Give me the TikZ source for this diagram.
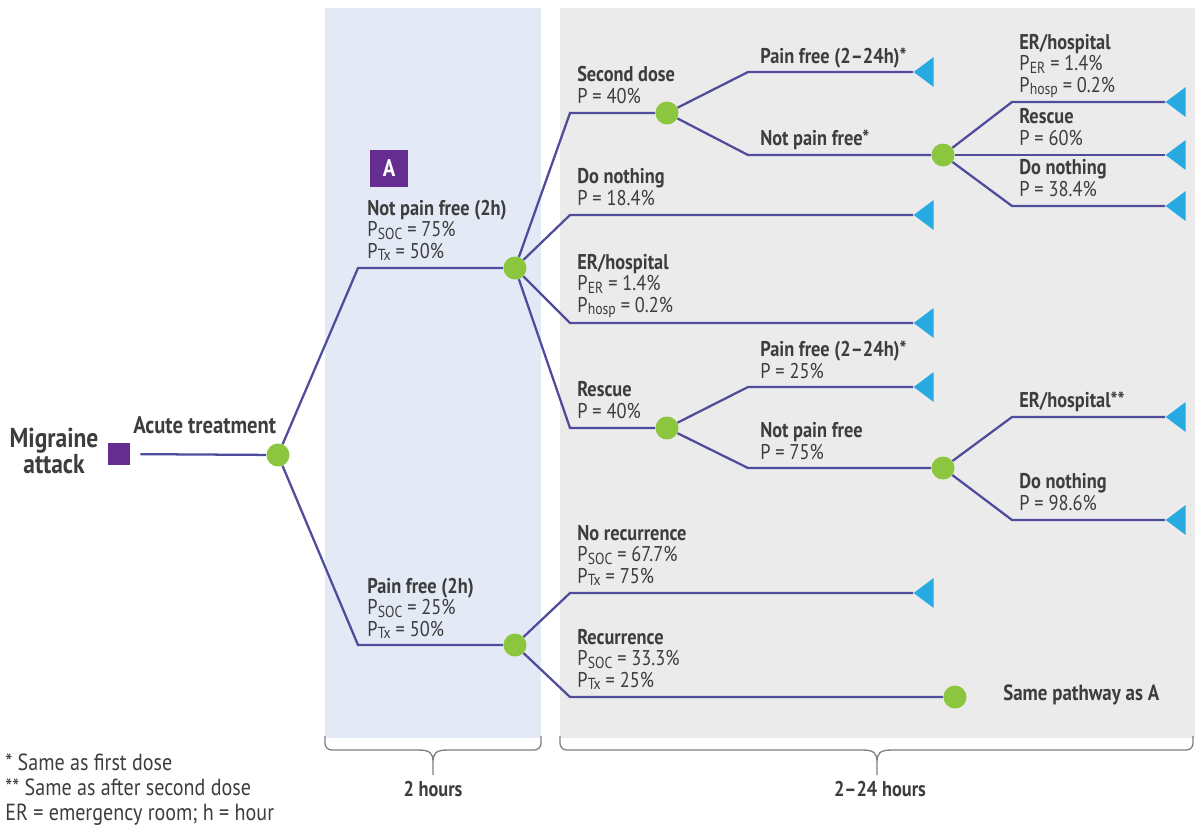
\documentclass[tikz,border=0pt]{standalone}
\usepackage{fontspec}
\setmainfont{PT Sans}[FakeStretch=0.86]
\usetikzlibrary{shapes.geometric}

\definecolor{txtgray}{HTML}{3D3D3D}
\definecolor{branchcol}{HTML}{4F4C9C}
\definecolor{chancecol}{HTML}{8CC63F}
\definecolor{leafcol}{HTML}{27AAE1}
\definecolor{decisioncol}{HTML}{662D91}
\definecolor{twohcol}{HTML}{E3E9F5}
\definecolor{latercol}{HTML}{EBEBEB}
\definecolor{bracecol}{HTML}{808080}

\newcommand{\psub}[1]{P\kern0.2pt{\fontsize{12}{12}\selectfont\raisebox{-0.3ex}{#1}}}

\tikzset{
  every node/.style={font=\fontsize{16}{16}\selectfont, text=txtgray},
  branch/.style={draw=branchcol, line width=1.7pt},
  chance/.style={circle, fill=chancecol, minimum size=17.25pt, inner sep=0pt},
  leaf/.style={isosceles triangle, isosceles triangle stretches, shape border rotate=180,
    fill=leafcol, minimum width=22.5pt, minimum height=15pt, inner sep=0pt, anchor=apex},
  lbl/.style={anchor=base west, align=left, inner sep=0pt},
  note/.style={lbl, font=\fontsize{17.5}{18}\selectfont},
  brace/.style={draw=bracecol, line width=1pt, rounded corners=5pt}
}

\begin{document}
\begin{tikzpicture}[x=0.75pt, y=-0.75pt]
    \useasboundingbox (0,0) rectangle (1195,829);

    % Panneaux de fond
    \fill[twohcol] (325,8) rectangle (541,738);
    \fill[latercol] (560,8) rectangle (1195,738);

    % Accolades
    \draw[brace] (325,736) -- (325,750) -- (418,750);
    \draw[bracecol, line width=1pt] (418,750) .. controls (430,750) and (433,753) .. (433,762) -- (433,775)
        (433,762) .. controls (433,753) and (436,750) .. (448,750);
    \draw[brace] (448,750) -- (541,750) -- (541,736);
    \draw[brace] (560,736) -- (560,750) -- (862,750);
    \draw[bracecol, line width=1pt] (862,750) .. controls (874,750) and (877,753) .. (877,762) -- (877,775)
        (877,762) .. controls (877,753) and (880,750) .. (892,750);
    \draw[brace] (892,750) -- (1193,750) -- (1193,736);
    \node[font=\fontsize{16}{16}\selectfont\bfseries] (twoh) at (433,789) {2 hours};
    \node[font=\fontsize{16}{16}\selectfont\bfseries] (later) at (880,789) {2--24 hours};

    % Noeud de décision et noeuds de chance
    \node[fill=decisioncol, minimum size=16.5pt, inner sep=0pt] (start) at (119,454) {};
    \node[chance] (a0) at (278,455) {};
    \node[chance] (n1) at (515,268) {};
    \node[chance] (n2) at (515,645) {};
    \node[chance] (s1) at (667,113) {};
    \node[chance] (s2) at (943,155) {};
    \node[chance] (r1) at (667,428) {};
    \node[chance] (r2) at (943,468) {};
    \node[chance] (rec) at (955,697) {};

    % Noeuds terminaux
    \foreach \name/\pos in {t1/{(913,72)}, t2/{(913,215)}, t3/{(913,323)}, t4/{(913,387)},
        t5/{(913,593)}, t6/{(1165,102)}, t7/{(1165,155)}, t8/{(1165,206)},
        t9/{(1165,417)}, t10/{(1165,520)}} {
        \node[leaf] (\name) at \pos {};
    }

    % Coudes des branches
    \coordinate (ka) at (358,268);
    \coordinate (kb) at (358,645);
    \coordinate (k1) at (570,113);
    \coordinate (k2) at (570,215);
    \coordinate (k3) at (570,323);
    \coordinate (k4) at (570,428);
    \coordinate (k5) at (748,72);
    \coordinate (k6) at (748,155);
    \coordinate (k7) at (1012,102);
    \coordinate (k9) at (1012,206);
    \coordinate (k10) at (748,387);
    \coordinate (k11) at (748,468);
    \coordinate (k12) at (1012,417);
    \coordinate (k13) at (1012,520);
    \coordinate (k14) at (570,593);
    \coordinate (k15) at (570,697);

    % Branches
    \draw[branch, shorten <=7.5pt] (start) -- (a0);
    \draw[branch] (a0) -- (ka) -- (n1);
    \draw[branch] (a0) -- (kb) -- (n2);
    \draw[branch] (n1) -- (k1) -- (s1);
    \draw[branch] (n1) -- (k2) -- (t2.apex);
    \draw[branch] (n1) -- (k3) -- (t3.apex);
    \draw[branch] (n1) -- (k4) -- (r1);
    \draw[branch] (s1) -- (k5) -- (t1.apex);
    \draw[branch] (s1) -- (k6) -- (s2);
    \draw[branch] (s2) -- (k7) -- (t6.apex);
    \draw[branch] (s2) -- (t7.apex);
    \draw[branch] (s2) -- (k9) -- (t8.apex);
    \draw[branch] (r1) -- (k10) -- (t4.apex);
    \draw[branch] (r1) -- (k11) -- (r2);
    \draw[branch] (r2) -- (k12) -- (t9.apex);
    \draw[branch] (r2) -- (k13) -- (t10.apex);
    \draw[branch] (n2) -- (k14) -- (t5.apex);
    \draw[branch] (n2) -- (k15) -- (rec);

    % Étiquettes
    \node[align=center, inner sep=0pt, font=\fontsize{20.5}{18}\selectfont\bfseries] (migraine) at (54,451) {Migraine\\attack};
    \node[lbl, font=\fontsize{18}{18}\selectfont\bfseries] (acute) at (133,433) {Acute treatment};
    \node[fill=decisioncol, minimum width=28.5pt, minimum height=27.75pt, inner sep=0pt,
        text=white, font=\fontsize{18}{18}\selectfont\bfseries] (boxA) at (389,168.5) {A};
    \node[lbl] (notpf) at (367,258) {\textbf{Not pain free (2h)}\\\psub{SOC} = 75\%\\\psub{Tx} = 50\%};
    \node[lbl] (pf) at (367,636) {\textbf{Pain free (2h)}\\\psub{SOC} = 25\%\\\psub{Tx} = 50\%};
    \node[lbl] (second) at (577,103) {\textbf{Second dose}\\P = 40\%};
    \node[lbl] (nothing1) at (577,205) {\textbf{Do nothing}\\P = 18.4\%};
    \node[lbl] (er1) at (577,312) {\textbf{ER/hospital}\\\psub{ER} = 1.4\%\\\psub{hosp} = 0.2\%};
    \node[lbl] (rescue1) at (577,418) {\textbf{Rescue}\\P = 40\%};
    \node[lbl] (pfree2) at (760,63) {\textbf{Pain free (2--24h)*}};
    \node[lbl] (npfree2) at (760,145) {\textbf{Not pain free*}};
    \node[lbl] (er2) at (1019,92) {\textbf{ER/hospital}\\\psub{ER} = 1.4\%\\\psub{hosp} = 0.2\%};
    \node[lbl] (rescue2) at (1019,145) {\textbf{Rescue}\\P = 60\%};
    \node[lbl] (nothing2) at (1019,196) {\textbf{Do nothing}\\P = 38.4\%};
    \node[lbl] (pfree3) at (760,378) {\textbf{Pain free (2--24h)*}\\P = 25\%};
    \node[lbl] (npfree3) at (760,459) {\textbf{Not pain free}\\P = 75\%};
    \node[lbl] (er3) at (1019,407) {\textbf{ER/hospital**}};
    \node[lbl] (nothing3) at (1019,510) {\textbf{Do nothing}\\P = 98.6\%};
    \node[lbl] (norec) at (577,583) {\textbf{No recurrence}\\\psub{SOC} = 67.7\%\\\psub{Tx} = 75\%};
    \node[lbl] (recur) at (577,687) {\textbf{Recurrence}\\\psub{SOC} = 33.3\%\\\psub{Tx} = 25\%};
    \node[lbl, font=\fontsize{16.5}{16}\selectfont\bfseries] (same) at (1003,700) {Same pathway as A};

    % Notes
    \node[note] (note1) at (5,770) {* Same as first dose};
    \node[note] (note2) at (5,795) {** Same as after second dose};
    \node[note] (note3) at (5,820) {ER = emergency room; h = hour};
\end{tikzpicture}
\end{document}
